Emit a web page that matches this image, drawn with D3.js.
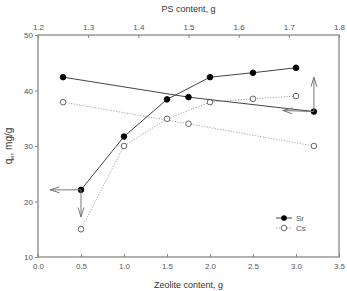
<!DOCTYPE html>
<html><head><meta charset="utf-8">
<script src="https://cdn.jsdelivr.net/npm/d3@7"></script>
<style>body{margin:0;background:#fff}svg{display:block}text{font-family:"Liberation Sans",Arial,sans-serif}</style>
</head><body>
<script>
const zeolite = [0.5, 1.0, 1.5, 2.0, 2.5, 3.0];
const srZeo = [22.1, 31.7, 38.4, 42.4, 43.2, 44.1];
const csZeo = [15.0, 30.0, 34.9, 37.9, 38.5, 39.0];
const ps = [1.25, 1.5, 1.75];
const srPS = [42.4, 38.8, 36.2];
const csPS = [37.9, 34.0, 30.0];
const zeoTicks = [0.0, 0.5, 1.0, 1.5, 2.0, 2.5, 3.0, 3.5];
const psTicks = [1.2, 1.3, 1.4, 1.5, 1.6, 1.7, 1.8];
const yTicks = [10, 20, 30, 40, 50];

const W = 347, H = 291;
const m = {l: 38, r: 8, t: 35, b: 34};
const svg = d3.select("body").append("svg").attr("width", W).attr("height", H);
const x = d3.scaleLinear().domain([0, 3.5]).range([m.l, W - m.r]);
const x2 = d3.scaleLinear().domain([1.2, 1.8]).range([m.l, W - m.r]);
const y = d3.scaleLinear().domain([10, 50]).range([H - m.b, m.t]);
const axisCol = "#888", txtCol = "#555";

svg.append("rect").attr("x", m.l).attr("y", m.t).attr("width", x(3.5) - m.l).attr("height", y(10) - m.t)
  .attr("fill", "none").attr("stroke", axisCol).attr("stroke-width", 1.3);

function style(g) {
  g.select(".domain").remove();
  g.selectAll("line").attr("stroke", axisCol);
  g.selectAll("text").attr("fill", txtCol).style("font-size", "8px");
}
svg.append("g").attr("transform", `translate(0,${y(10)})`)
  .call(d3.axisBottom(x).tickValues(zeoTicks).tickFormat(d3.format(".1f")).tickSizeInner(-3).tickSizeOuter(0).tickPadding(6)).call(style);
svg.append("g").attr("transform", `translate(0,${y(50)})`)
  .call(d3.axisTop(x2).tickValues(psTicks).tickFormat(d3.format(".1f")).tickSizeInner(-3).tickSizeOuter(0).tickPadding(5)).call(style);
svg.append("g").attr("transform", `translate(${m.l},0)`)
  .call(d3.axisLeft(y).tickValues(yTicks).tickSizeInner(3).tickSizeOuter(0).tickPadding(2)).call(style);

svg.append("text").attr("x", (m.l + W - m.r) / 2).attr("y", 12).attr("text-anchor", "middle")
  .style("font-size", "9px").attr("fill", "#333").text("PS content, g");
svg.append("text").attr("x", (m.l + W - m.r) / 2).attr("y", 288).attr("text-anchor", "middle")
  .style("font-size", "9px").attr("fill", "#333").text("Zeolite content, g");
const yl = svg.append("text").attr("transform", `translate(12,${y(30)}) rotate(-90)`).attr("text-anchor", "middle")
  .style("font-size", "10px").attr("fill", "#333");
yl.append("tspan").text("q");
yl.append("tspan").attr("dy", 2).style("font-size", "6px").text("e");
yl.append("tspan").attr("dy", -2).text(", mg/g");

function series(xs, ys, sx, filled) {
  const pts = xs.map((d, i) => [sx(d), y(ys[i])]);
  svg.append("path").attr("d", d3.line()(pts)).attr("fill", "none")
    .attr("stroke", filled ? "#444" : "#999").attr("stroke-width", filled ? 1 : 0.9)
    .attr("stroke-dasharray", filled ? null : "1.2,1.5");
  svg.append("g").selectAll("circle").data(pts).join("circle")
    .attr("cx", d => d[0]).attr("cy", d => d[1]).attr("r", 2.8)
    .attr("fill", filled ? "#000" : "#fff").attr("stroke", filled ? "#000" : "#555").attr("stroke-width", 0.9);
}
series(ps, csPS, x2, false);
series(zeolite, csZeo, x, false);
series(ps, srPS, x2, true);
series(zeolite, srZeo, x, true);

function arrow(x0, y0, x1, y1) {
  const ang = Math.atan2(y1 - y0, x1 - x0), L = 10, a = 0.3;
  const g = svg.append("g").attr("stroke", "#777").attr("stroke-width", 1).attr("fill", "none");
  g.append("line").attr("x1", x0).attr("y1", y0).attr("x2", x1).attr("y2", y1);
  g.append("polyline").attr("points", [
    [x1 - L * Math.cos(ang - a), y1 - L * Math.sin(ang - a)], [x1, y1],
    [x1 - L * Math.cos(ang + a), y1 - L * Math.sin(ang + a)]].map(p => p.join(",")).join(" "));
}
arrow(x(0.5), y(srZeo[0]), x(0.14), y(srZeo[0]));
arrow(x(0.5), y(srZeo[0]), x(0.5), y(17.2));
arrow(x2(1.75), y(srPS[2]), x2(1.75), y(42.4));
arrow(x2(1.75), y(srPS[2]), x2(1.688), y(36.4));

const lg = svg.append("g").attr("transform", "translate(276,218)");
lg.append("line").attr("x1", 0).attr("x2", 16).attr("stroke", "#444");
lg.append("circle").attr("cx", 8).attr("r", 2.8).attr("fill", "#000");
lg.append("text").attr("x", 20).attr("y", 3).style("font-size", "8px").attr("fill", txtCol).text("Sr");
lg.append("line").attr("x1", 0).attr("x2", 16).attr("y1", 10).attr("y2", 10).attr("stroke", "#999").attr("stroke-dasharray", "1.2,1.5");
lg.append("circle").attr("cx", 8).attr("cy", 10).attr("r", 2.8).attr("fill", "#fff").attr("stroke", "#555").attr("stroke-width", 0.9);
lg.append("text").attr("x", 20).attr("y", 13).style("font-size", "8px").attr("fill", txtCol).text("Cs");
</script>
</body></html>
